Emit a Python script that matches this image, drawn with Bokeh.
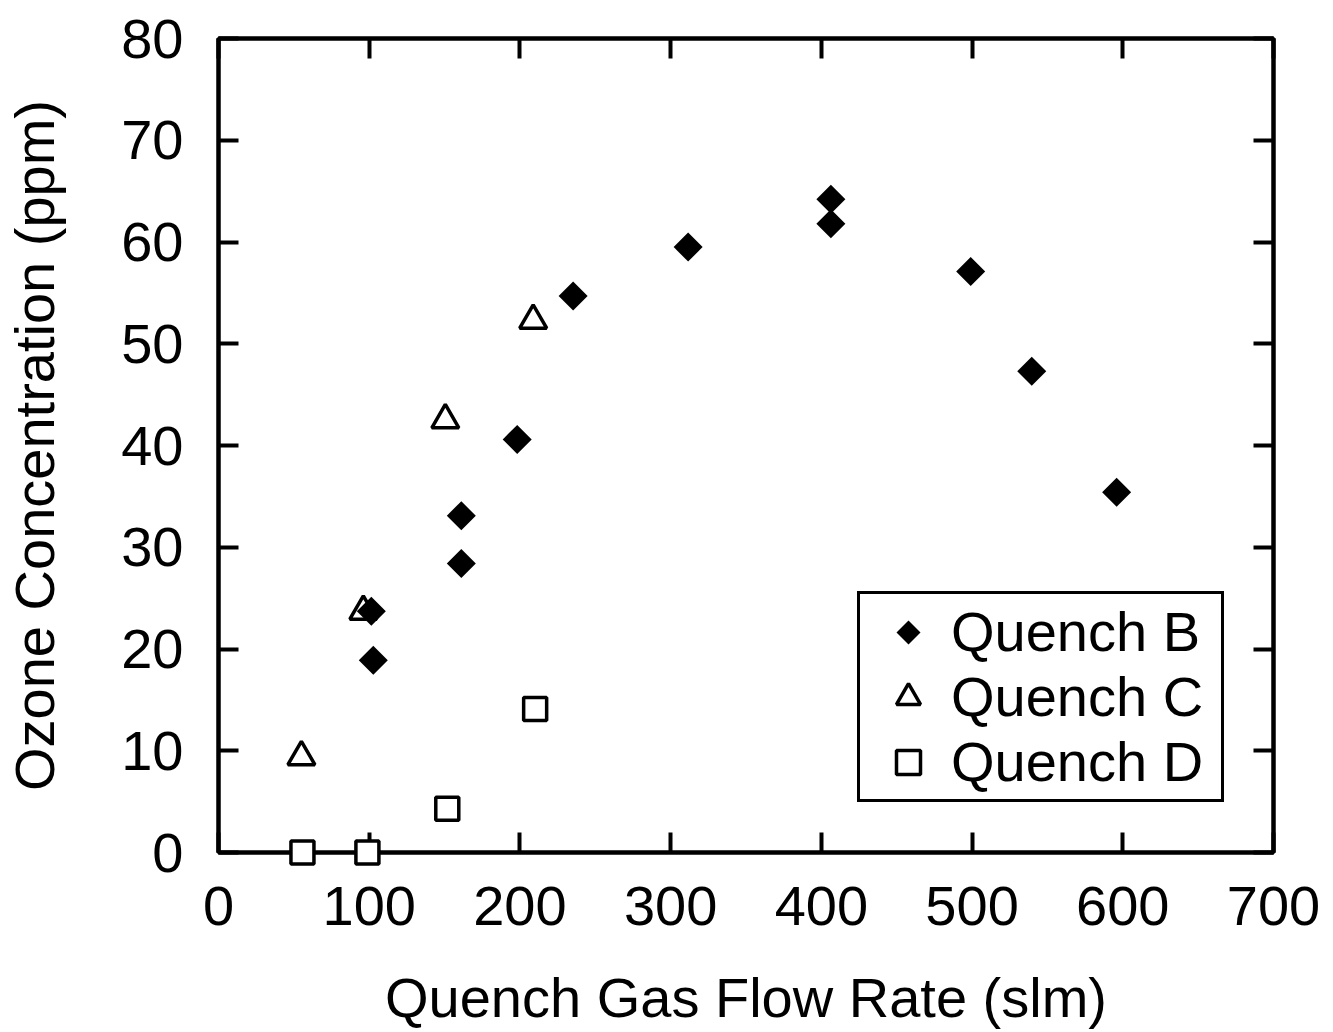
import math
from bokeh.plotting import figure
from bokeh.models import LinearAxis, Legend, LegendItem, FixedTicker, Range1d
from bokeh.embed import file_html
from bokeh.resources import INLINE

# Quench B (filled diamonds)
b_x = [101.4, 102.7, 161.1, 161.1, 198.2, 235.3, 311.6, 406.3, 406.3, 499.1, 539.6, 595.9]
b_y = [23.7, 18.9, 33.1, 28.4, 40.6, 54.7, 59.5, 64.2, 61.8, 57.1, 47.3, 35.4]
# Quench C (open triangles)
c_x = [55.0, 96.1, 150.5, 208.8]
c_y = [9.4, 23.7, 42.5, 52.3]
# Quench D (open squares)
d_x = [55.7, 98.8, 151.8, 210.1]
d_y = [0.0, 0.0, 4.3, 14.1]

x_ticks = [0, 100, 200, 300, 400, 500, 600, 700]
y_ticks = [0, 10, 20, 30, 40, 50, 60, 70, 80]
series_names = ["Quench B", "Quench C", "Quench D"]

FONT = "Liberation Sans"
FS = "56px"

p = figure(width=1333, height=1032, output_backend="svg", toolbar_location=None,
           x_range=Range1d(0, 700), y_range=Range1d(0, 80),
           min_border_left=217, min_border_right=60, min_border_top=38, min_border_bottom=180,
           background_fill_color="white", border_fill_color="white")
p.grid.visible = False
p.outline_line_color = "black"
p.outline_line_width = 4

def style_axis(ax, labels=True, ticks=None):
    ax.axis_line_color = "black"
    ax.axis_line_width = 4
    ax.major_tick_in = 20
    ax.major_tick_out = 0
    ax.major_tick_line_width = 4
    ax.major_tick_line_color = "black"
    ax.minor_tick_line_color = None
    if labels:
        ax.major_label_text_font = FONT
        ax.major_label_text_font_size = FS
        ax.major_label_text_color = "black"
        ax.axis_label_text_font = FONT
        ax.axis_label_text_font_size = FS
        ax.axis_label_text_font_style = "normal"
        ax.axis_label_text_color = "black"
    else:
        ax.major_label_overrides = {t: "" for t in ticks}
        ax.major_label_standoff = 0

p.xaxis.ticker = FixedTicker(ticks=x_ticks)
p.yaxis.ticker = FixedTicker(ticks=y_ticks)
style_axis(p.xaxis[0])
style_axis(p.yaxis[0])
p.xaxis.axis_label = "Quench Gas Flow Rate (slm)"
p.yaxis.axis_label = "Ozone Concentration (ppm)"
p.xaxis.major_label_standoff = 34
p.yaxis.major_label_standoff = 35
p.xaxis.axis_label_standoff = 38
p.yaxis.axis_label_standoff = 52

top_ax = LinearAxis(ticker=FixedTicker(ticks=x_ticks))
right_ax = LinearAxis(ticker=FixedTicker(ticks=y_ticks))
style_axis(top_ax, labels=False, ticks=x_ticks)
style_axis(right_ax, labels=False, ticks=y_ticks)
p.add_layout(top_ax, "above")
p.add_layout(right_ax, "right")

rc = p.scatter(c_x, c_y, marker="triangle", size=27, fill_color="white",
               line_color="black", line_width=3.5)
rd = p.scatter(d_x, d_y, marker="square", size=23, fill_color="white",
               line_color="black", line_width=3.5, level="overlay")
rb = p.ngon(x=b_x, y=b_y, radius=14.5, radius_units="screen", n=4,
            fill_color="black", line_color="black", line_width=0)

legend = Legend(items=[LegendItem(label=series_names[0], renderers=[rb]),
                       LegendItem(label=series_names[1], renderers=[rc]),
                       LegendItem(label=series_names[2], renderers=[rd])],
                location=(639, 50))
legend.label_text_font = FONT
legend.label_text_font_size = FS
legend.label_text_color = "black"
legend.border_line_color = "black"
legend.border_line_alpha = 1
legend.border_line_width = 3
legend.background_fill_color = "white"
legend.background_fill_alpha = 1
legend.padding = 5
legend.spacing = 0
legend.margin = 0
legend.glyph_width = 86
legend.glyph_height = 60
legend.label_height = 60
legend.label_width = 265
legend.label_standoff = 0
p.add_layout(legend, "center")

open("out.html", "w").write(file_html(p, INLINE))
